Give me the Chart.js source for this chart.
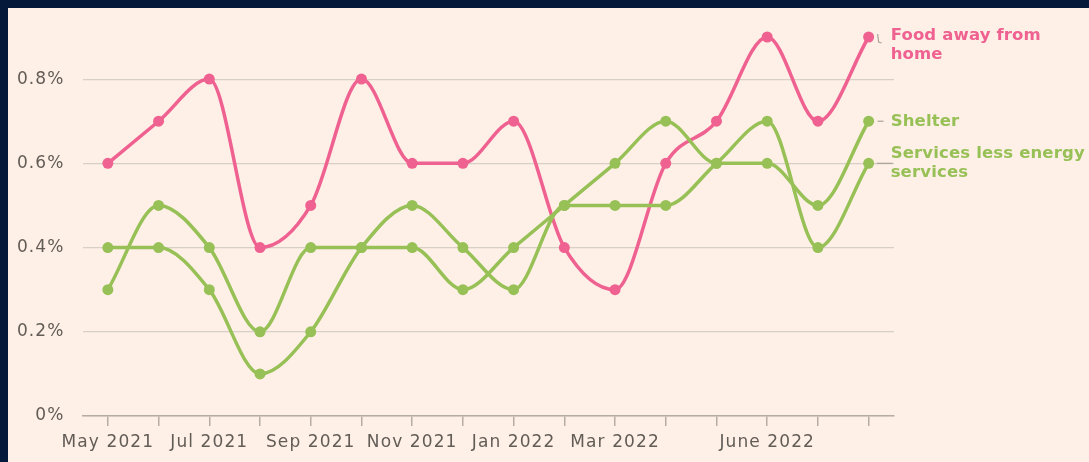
<!DOCTYPE html>
<html>
<head>
<meta charset="utf-8">
<script src="https://cdn.jsdelivr.net/npm/chart.js@4/dist/chart.umd.min.js"></script>
<style>
  html, body { margin: 0; padding: 0; background: #05193b; overflow: hidden; }
  #frame { position: absolute; left: 8px; top: 8px; width: 1081px; height: 454px; background: #fef0e6; }
  canvas { display: block; }
</style>
</head>
<body>
<div id="frame"><canvas id="chart" width="1081" height="454"></canvas></div>
<script>
// monthly % change, May 2021 - Aug 2022
const months = ['May 2021', 'Jun 2021', 'Jul 2021', 'Aug 2021', 'Sep 2021', 'Oct 2021', 'Nov 2021', 'Dec 2021',
                'Jan 2022', 'Feb 2022', 'Mar 2022', 'Apr 2022', 'May 2022', 'June 2022', 'Jul 2022', 'Aug 2022'];
const shownMonths = ['May 2021', 'Jul 2021', 'Sep 2021', 'Nov 2021', 'Jan 2022', 'Mar 2022', 'June 2022'];

const foodAway = [0.6, 0.7, 0.8, 0.4, 0.5, 0.8, 0.6, 0.6, 0.7, 0.4, 0.3, 0.6, 0.7, 0.9, 0.7, 0.9];
const shelter = [0.3, 0.5, 0.4, 0.2, 0.4, 0.4, 0.4, 0.3, 0.4, 0.5, 0.6, 0.7, 0.6, 0.6, 0.5, 0.7];
const servicesLessEnergy = [0.4, 0.4, 0.3, 0.1, 0.2, 0.4, 0.5, 0.4, 0.3, 0.5, 0.5, 0.5, 0.6, 0.7, 0.4, 0.6];

const seriesNames = ['Shelter', 'Services less energy services', 'Food away from home'];

const pink = '#ef6190';
const green = '#97c056';
const axisGrey = '#b5aca4';

function makeLine(label, data, color) {
  return {
    label: label,
    data: data,
    borderColor: color,
    backgroundColor: color,
    borderWidth: 3.5,
    pointRadius: 5.5,
    pointHoverRadius: 5.5,
    pointBorderWidth: 0,
    cubicInterpolationMode: 'monotone',
    clip: false
  };
}

// tracking on tick text, canvas state gets reset on resize so set it per draw
const spacing = {
  id: 'spacing',
  beforeDraw(chart) {
    chart.ctx.letterSpacing = '1.1px';
  }
};

const endLabels = {
  id: 'endLabels',
  afterDatasetsDraw(chart) {
    const ctx = chart.ctx;
    ctx.save();
    ctx.letterSpacing = '0.15px';
    ctx.font = 'bold 16.5px "DejaVu Sans"';
    ctx.textBaseline = 'middle';
    ctx.textAlign = 'left';
    ctx.strokeStyle = '#aaa29b';
    ctx.lineWidth = 1.2;

    chart.data.datasets.forEach((ds, i) => {
      const meta = chart.getDatasetMeta(i);
      const pt = meta.data[meta.data.length - 1];
      const px = pt.x, py = pt.y;
      const tx = px + 22;
      ctx.fillStyle = ds.borderColor;
      ctx.beginPath();
      if (i === 2) {
        ctx.moveTo(px + 9, py - 3);
        ctx.lineTo(px + 10, py + 5);
        ctx.lineTo(px + 13, py + 6);
        ctx.stroke();
        ctx.fillText('Food away from', tx, py - 1);
        ctx.fillText('home', tx, py + 18);
      } else if (i === 0) {
        ctx.moveTo(px + 9, py);
        ctx.lineTo(px + 15, py);
        ctx.stroke();
        ctx.fillText('Shelter', tx, py);
      } else {
        ctx.moveTo(px + 8, py);
        ctx.lineTo(px + 24, py);
        ctx.stroke();
        ctx.fillText('Services less energy', tx, py - 9.5);
        ctx.fillText('services', tx, py + 9.5);
      }
    });
    ctx.restore();
  }
};

Chart.defaults.font.family = '"DejaVu Sans"';

const ctx = document.getElementById('chart').getContext('2d');
new Chart(ctx, {
  type: 'line',
  data: {
    labels: months,
    datasets: [
      makeLine(seriesNames[0], shelter, green),
      makeLine(seriesNames[1], servicesLessEnergy, green),
      makeLine(seriesNames[2], foodAway, pink)
    ]
  },
  options: {
    responsive: false,
    animation: false,
    devicePixelRatio: 1,
    layout: { padding: { top: 29, right: 195, left: 0, bottom: 0 } },
    plugins: {
      legend: { display: false },
      tooltip: { enabled: false }
    },
    scales: {
      x: {
        type: 'category',
        offset: true,
        afterFit(scale) { scale.height = 46; },
        grid: {
          offset: false,
          drawOnChartArea: false,
          drawTicks: true,
          tickLength: 10,
          tickColor: axisGrey,
          lineWidth: 1.5
        },
        border: { display: true, color: axisGrey, width: 1.5 },
        ticks: {
          autoSkip: false,
          maxRotation: 0,
          padding: 6,
          color: '#625c57',
          font: { size: 17 },
          callback(value, index) {
            const m = months[index];
            return shownMonths.includes(m) ? m : '';
          }
        }
      },
      y: {
        min: 0,
        max: 0.9,
        afterFit(scale) { scale.width = 74.5; },
        afterBuildTicks(scale) {
          scale.ticks = scale.ticks.filter(t => Math.round(t.value * 10) % 2 === 0);
        },
        grid: { color: '#d8cfc7', lineWidth: 1.2, drawTicks: false },
        border: { display: false },
        ticks: {
          stepSize: 0.2,
          padding: 18,
          color: '#625c57',
          font: { size: 17 },
          callback(v) { return v === 0 ? '0%' : v.toFixed(1) + '%'; }
        }
      }
    }
  },
  plugins: [spacing, endLabels]
});
</script>
</body>
</html>
